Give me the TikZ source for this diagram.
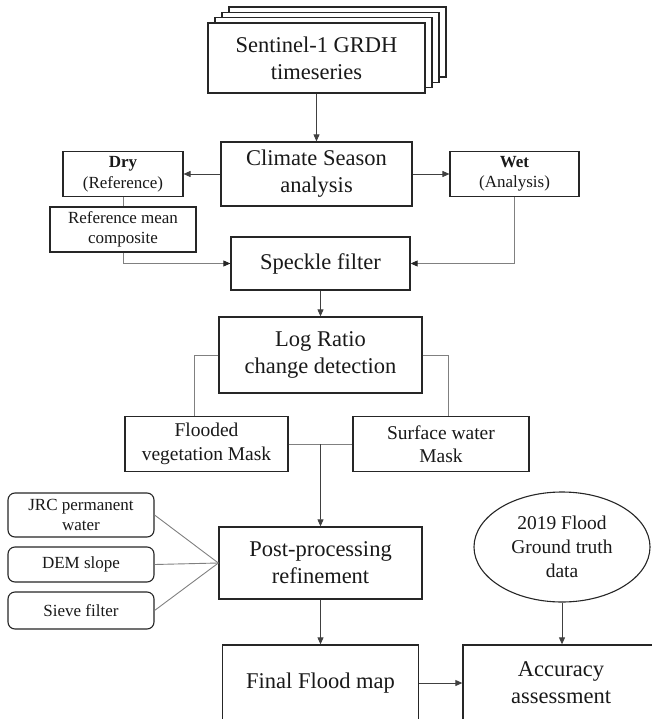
\documentclass[tikz,border=0pt]{standalone}
\usepackage{fontspec}
\setmainfont{LiberationSerif}[Extension=.ttf, UprightFont=*-Regular, BoldFont=*-Bold, ItalicFont=*-Italic]
\usetikzlibrary{arrows.meta, calc, shapes, shadows}

\begin{document}
\begin{tikzpicture}[x=1pt, y=-1pt, >={Triangle[length=7pt,width=6pt]},
    bx/.style={rectangle, draw=black!85, line width=1.3pt, fill=white, align=center, inner sep=0pt, text=black!90, font=\fontsize{22.5}{27}\selectfont},
    sm/.style={bx, line width=1.1pt, font=\fontsize{17}{20.5}\selectfont},
    md/.style={bx, line width=1.1pt, font=\fontsize{19.5}{23.5}\selectfont},
    rb/.style={sm, rounded corners=7pt},
    ly/.style={copy shadow={shadow xshift=#1, shadow yshift=#1*0.76, fill=white, draw=black!85, line width=1.3pt}},
    ln/.style={draw=black!50, line width=0.9pt},
    gn/.style={ln, -{Triangle[length=7pt,width=6pt,color=black!85]}},
    ar/.style={draw=black!75, line width=0.9pt, ->}]
            \useasboundingbox (0,0) rectangle (652,719);
            \clip (0,0) rectangle (652,719);

            \node[bx, minimum width=217pt, minimum height=70pt, ly=21pt, ly=14pt, ly=7pt] (sent) at (316.5,58) {Sentinel-1 GRDH\\timeseries};
            \node[bx, minimum width=191pt, minimum height=64pt] (clim) at (316.5,174) {Climate Season\\analysis};
            \node[sm, minimum width=120pt, minimum height=45pt] (dry) at (123,174) {\textbf{Dry}\\(Reference)};
            \node[sm, minimum width=129pt, minimum height=45pt] (wet) at (514.5,174) {\textbf{Wet}\\(Analysis)};
            \node[sm, minimum width=146pt, minimum height=45pt] (refm) at (123,229.5) {Reference mean\\composite};
            \node[bx, minimum width=179pt, minimum height=53pt] (spk) at (320.5,263.5) {Speckle filter};
            \node[bx, minimum width=203pt, minimum height=76pt] (logr) at (320.5,355) {Log Ratio\\change detection};
            \node[md, minimum width=163pt, minimum height=55pt] (fveg) at (206.5,444) {Flooded\\vegetation Mask};
            \node[md, minimum width=176pt, minimum height=55pt] (swat) at (441,444) {Surface water\\Mask};
            \node[bx, minimum width=203pt, minimum height=72pt] (post) at (320.5,563) {Post-processing\\refinement};
            \node[rb, minimum width=146pt, minimum height=44pt] (jrc) at (81,515) {JRC permanent\\water};
            \node[rb, minimum width=146pt, minimum height=35pt] (dem) at (81,564.5) {DEM slope};
            \node[rb, minimum width=146pt, minimum height=37pt] (sieve) at (81,610.5) {Sieve filter};
            \node[md, ellipse, minimum width=176pt, minimum height=110pt, font=\fontsize{19.5}{24}\selectfont] (gt) at (562,547) {2019 Flood\\Ground truth\\data};
            \node[bx, minimum width=196pt, minimum height=76pt] (final) at (320.5,683) {Final Flood map};
            \node[bx, minimum width=196pt, minimum height=76pt] (acc) at (561,683) {Accuracy\\assessment};

            % top part
            \draw[ar] (sent) -- (clim);
            \draw[ar] (clim.west) -- (dry.east);
            \draw[ar] (clim.east) -- (wet.west);
            \draw[ln] (dry) -- (refm);
            \draw[gn] (refm.south) |- (spk.west);
            \draw[gn] (wet.south) |- (spk.east);
            \draw[ar] (spk) -- (logr);

            % masks
            \draw[ln] (logr.west) -| ([xshift=-12.5pt]fveg.north);
            \draw[ln] (logr.east) -| ([xshift=7pt]swat.north);
            \draw[ln] (fveg.east) -- (swat.west);
            \coordinate (mg) at ($(fveg.east)!.5!(swat.west)$);
            \draw[ar] (mg) -- (post);

            % refinement inputs
            \draw[ln] (jrc.east) -- (post.west);
            \draw[ln] (dem.east) -- (post.west);
            \draw[ln] (sieve.east) -- (post.west);

            % bottom part
            \draw[ar] (post) -- (final);
            \draw[ar] (gt.south) -- (gt.south |- acc.north);
            \draw[ar] (final) -- (acc);
        \end{tikzpicture}
\end{document}
